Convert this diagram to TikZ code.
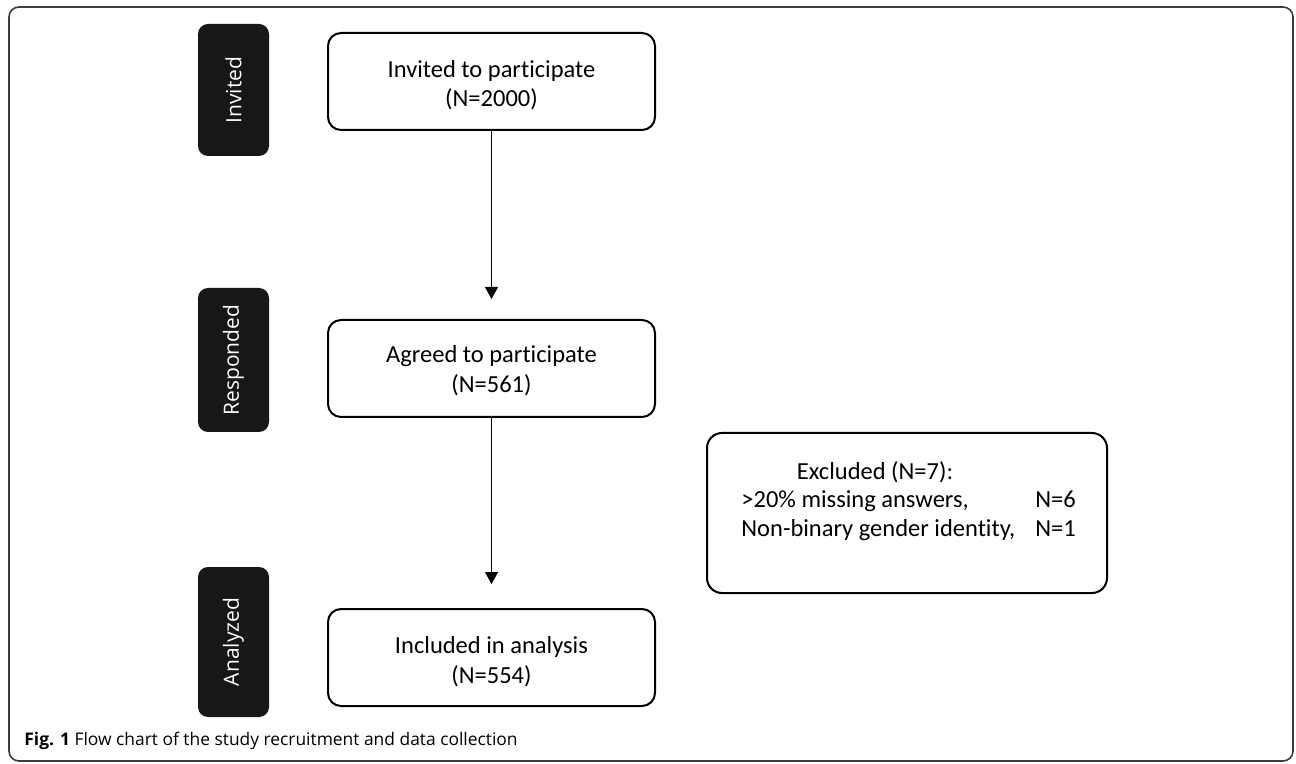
\documentclass[tikz,border=0pt]{standalone}
\usepackage{fontspec}
\setmainfont{Carlito}[Ligatures=NoCommon]
\newfontfamily\labfont{Open Sans}
\newfontfamily\capfont{Open Sans}
\usetikzlibrary{arrows.meta}
\definecolor{darkbox}{HTML}{171717}
\definecolor{framecol}{HTML}{3C3C3C}
\begin{document}
\begin{tikzpicture}[x=0.5pt,y=-0.5pt,
  flowbox/.style={draw=black, line width=1pt, rounded corners=6.5pt, minimum width=163.5pt, minimum height=48.5pt, inner sep=0pt},
  exbox/.style={draw=black, line width=1pt, rounded corners=7.5pt, minimum width=200pt, minimum height=80pt, inner sep=0pt},
  stagebox/.style={fill=darkbox, rounded corners=5pt, minimum height=35.5pt, inner sep=0pt, text=white, rotate=90, font=\labfont\fontsize{10.5pt}{12pt}\selectfont},
  boxtext/.style={font=\fontsize{12.25pt}{15pt}\selectfont, inner sep=0pt, anchor=base},
  extext/.style={font=\fontsize{12.25pt}{15pt}\selectfont, inner sep=0pt, anchor=base west},
  arr/.style={line width=0.5pt, -{Triangle[width=6.5pt,length=6pt]}},
]
\useasboundingbox (0,0) rectangle (1296,764);
\draw[framecol, line width=0.8pt, rounded corners=5pt] (9,7) rectangle (1293,761);

% stage labels
\node[stagebox, minimum width=66pt] (s1) at (233.5,90) {Invited};
\node[stagebox, minimum width=72pt] (s2) at (233.5,360) {Responded};
\node[stagebox, minimum width=75pt] (s3) at (233.5,642) {Analyzed};

% flow boxes
\node[flowbox] (b1) at (491.5,81.5) {};
\node[boxtext] (b1a) at (491.5,78) {Invited to participate};
\node[boxtext] (b1b) at (491.5,107) {(N=2000)};

\node[flowbox] (b2) at (491.5,368.5) {};
\node[boxtext] (b2a) at (491.5,363) {Agreed to participate};
\node[boxtext] (b2b) at (491.5,393) {(N=561)};

\node[flowbox] (b3) at (491.5,657.5) {};
\node[boxtext] (b3a) at (491.5,653) {Included in analysis};
\node[boxtext] (b3b) at (491.5,683) {(N=554)};

% excluded
\node[exbox] (ex) at (907,513) {};
\node[boxtext] (exh) at (875,480) {Excluded (N=7):};
\node[extext] (ex1) at (741,508) {>20\% missing answers,};
\node[extext] (ex1n) at (1035,508) {N=6};
\node[extext] (ex2) at (741,537) {Non-binary gender identity,};
\node[extext] (ex2n) at (1035,537) {N=1};

% arrows
\draw[arr, shorten >=10pt] (b1.south) -- (b2.north);
\draw[arr, shorten >=12pt] (b2.south) -- (b3.north);

% caption
\node[anchor=base west, inner sep=0pt, font=\capfont\fontsize{8.7pt}{10pt}\selectfont] (cap) at (24,745) {\textbf{Fig. 1} Flow chart of the study recruitment and data collection};
\end{tikzpicture}
\end{document}
